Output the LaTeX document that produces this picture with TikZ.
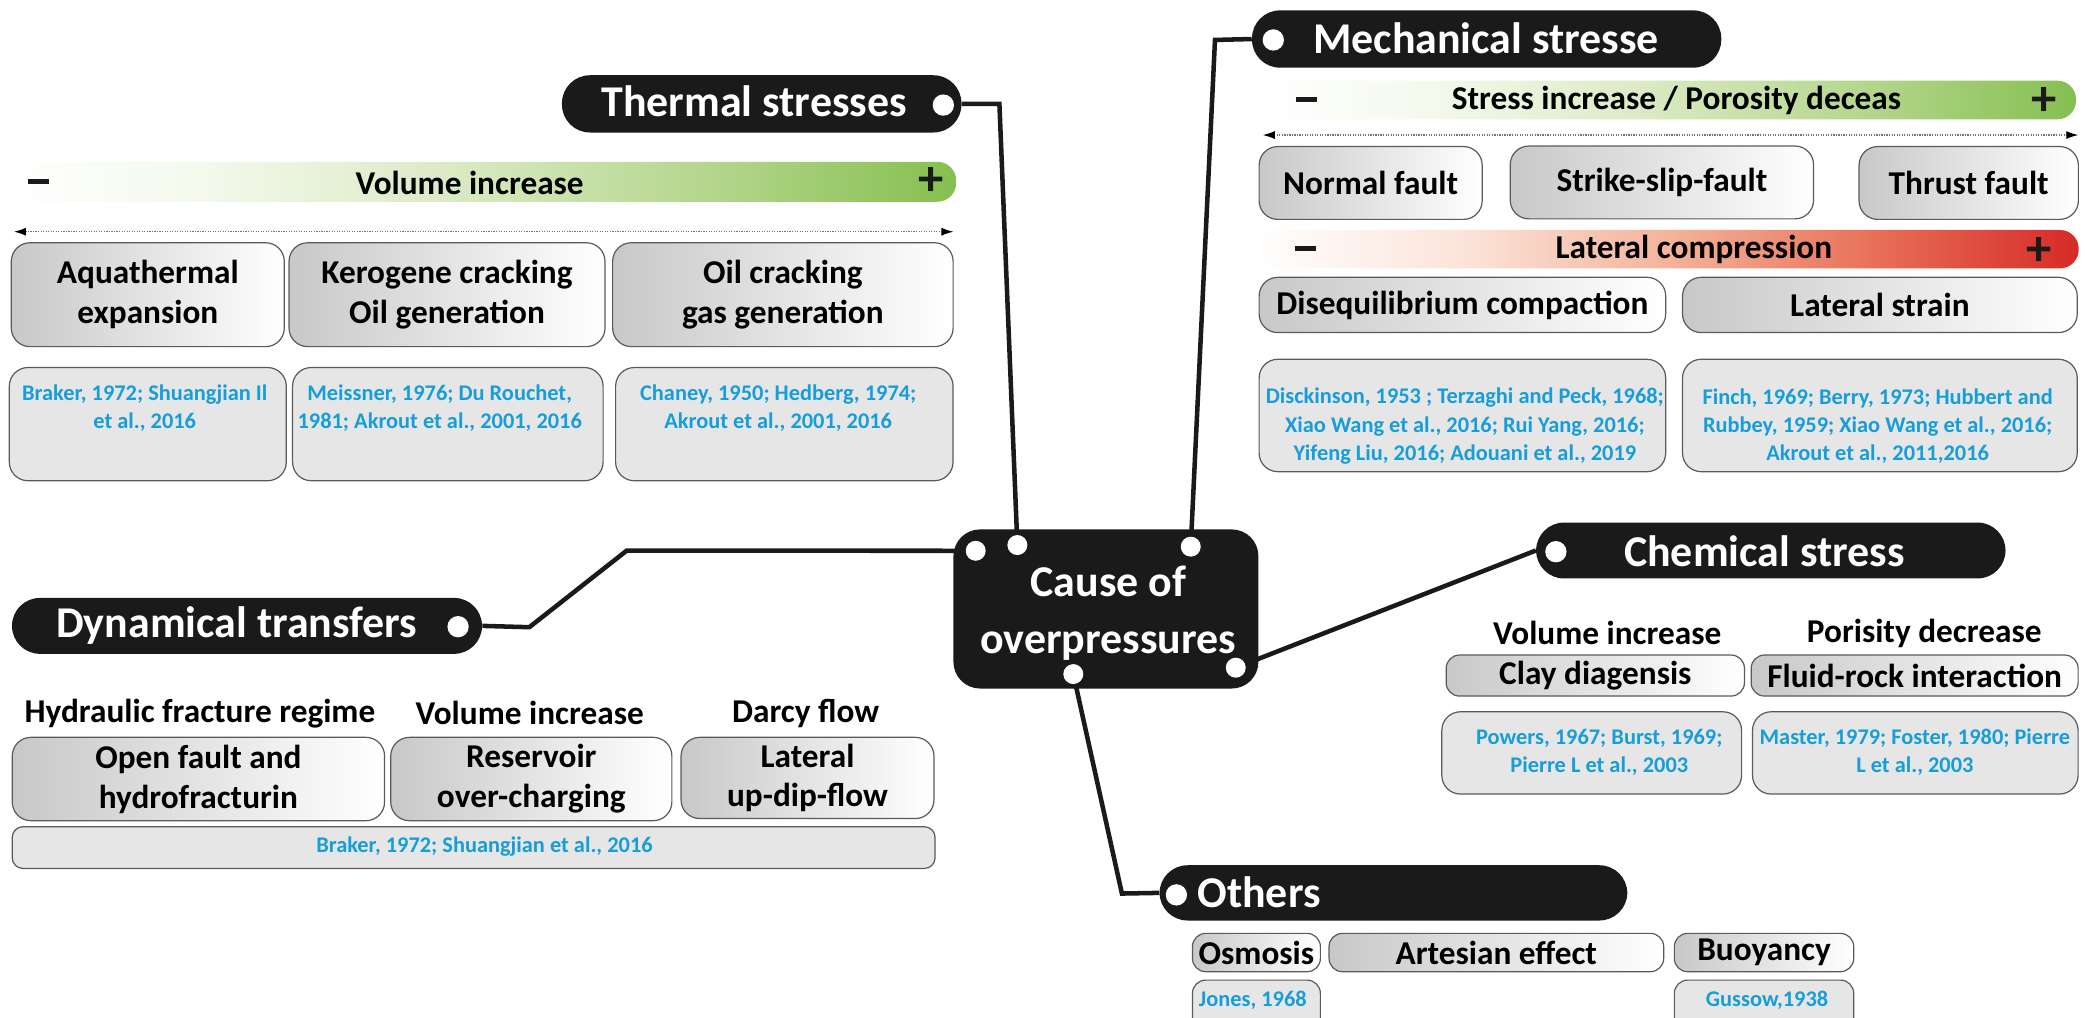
\documentclass[tikz,border=0pt]{standalone}
\usepackage{fontspec}
\setmainfont{Carlito}
\usepackage{tikz}
\usetikzlibrary{arrows.meta}
\definecolor{pillblack}{RGB}{26,26,26}
\definecolor{refblue}{RGB}{22,158,218}
\definecolor{refgray}{RGB}{230,230,230}
\definecolor{boxgray}{RGB}{200,200,200}
\definecolor{boxline}{RGB}{90,90,90}
\definecolor{greenlow}{RGB}{244,249,236}
\definecolor{greenmid}{RGB}{220,235,198}
\definecolor{greenhigh}{RGB}{180,214,140}
\definecolor{greenend}{RGB}{134,191,80}
\definecolor{redlow}{RGB}{251,228,218}
\definecolor{redmid}{RGB}{244,180,155}
\definecolor{redhigh}{RGB}{232,112,88}
\definecolor{redend}{RGB}{214,42,38}
\pgfdeclarehorizontalshading{greenscale}{100bp}{color(0bp)=(white); color(25bp)=(white); color(35bp)=(greenlow); color(47.5bp)=(greenmid); color(62bp)=(greenhigh); color(75bp)=(greenend); color(100bp)=(greenend)}
\pgfdeclarehorizontalshading{redscale}{100bp}{color(0bp)=(white); color(25bp)=(white); color(37.5bp)=(redlow); color(50bp)=(redmid); color(62.5bp)=(redhigh); color(75bp)=(redend); color(100bp)=(redend)}
\newcommand{\fnttitle}{\fontsize{33}{40}\selectfont\bfseries}
\newcommand{\fnthub}{\fontsize{33}{42.6}\selectfont\bfseries}
\newcommand{\fntitem}{\fontsize{25}{30}\selectfont\bfseries}
\newcommand{\fntref}{\fontsize{16.8}{21.2}\selectfont\bfseries}
\newcommand{\fntsign}{\fontsize{38}{38}\selectfont\bfseries}
\newcommand{\minussign}{\rule{16pt}{3.6pt}}

\begin{document}
\begin{tikzpicture}[x=1pt, y=-1pt,
    pill/.style={fill=pillblack, rounded corners=21pt, inner sep=0pt},
    pilltext/.style={text=white, font=\fnttitle, inner sep=0pt},
    pilldot/.style={circle, fill=white, inner sep=0pt, minimum size=16pt},
    hub/.style={fill=pillblack, rounded corners=20pt, inner sep=0pt},
    hubtext/.style={text=white, font=\fnthub, align=center, inner sep=0pt},
    hubdot/.style={circle, fill=white, inner sep=0pt, minimum size=15pt},
    link/.style={draw=pillblack, line width=3.4pt},
    itembox/.style={draw=boxline, line width=0.9pt, rounded corners=14pt, left color=boxgray, right color=white, text=black, font=\fntitem, align=center, inner sep=0pt},
    smallbox/.style={itembox, rounded corners=10pt},
    refbox/.style={draw=boxline, line width=0.9pt, rounded corners=14pt, fill=refgray, inner sep=0pt},
    reftext/.style={text=refblue, font=\fntref, align=center, inner sep=0pt},
    headtext/.style={text=black, font=\fntitem, inner sep=0pt},
    scalebar/.style={shade, rounded corners=14pt, inner sep=0pt},
    scalesign/.style={text=pillblack, font=\fntsign, inner sep=0pt},
    spanarrow/.style={{Latex[length=9pt,width=6pt,black]}-{Latex[length=9pt,width=6pt,black]}, densely dotted, draw=black!55, line width=0.9pt}]
  \useasboundingbox (0,0) rectangle (1568,764);

  \node[hub, minimum width=229, minimum height=119.5] (cause) at (830.5,457.3) {};
  \node[hubtext] (causelbl) at (832.3,460.5) {Cause of\\overpressures};
  \node[hubdot] (hubdyn) at (732.7,413.6) {};
  \node[hubdot] (hubtherm) at (764,409.3) {};
  \node[hubdot] (hubmech) at (894.2,410.5) {};
  \node[hubdot] (hubchem) at (928,501.4) {};
  \node[hubdot] (hubothers) at (806,506.2) {};

  \node[pill, minimum width=300, minimum height=43] (thermal) at (572,78) {};
  \node[pilltext] (thermallbl) at (566.3,76.3) {Thermal stresses};
  \node[pilldot] (thermaldot) at (708.4,78.9) {};
  \node[pill, minimum width=352.4, minimum height=43] (mech) at (1116.4,29.3) {};
  \node[pilltext] (mechlbl) at (1116,29) {Mechanical stresse};
  \node[pilldot] (mechdot) at (956.2,30) {};
  \node[pill, minimum width=352.5, minimum height=42] (chem) at (1329.8,413.4) {};
  \node[pilltext] (chemlbl) at (1325,414) {Chemical stress};
  \node[pilldot] (chemdot) at (1168.4,414.3) {};
  \node[pill, minimum width=353, minimum height=42] (dyn) at (185.5,470) {};
  \node[pilltext] (dynlbl) at (177.8,469.4) {Dynamical transfers};
  \node[pilldot] (dyndot) at (344,470.6) {};
  \node[pill, minimum width=351.3, minimum height=41.5] (others) at (1046.4,670.5) {};
  \node[pilltext, anchor=west] (otherslbl) at (899,670) {Others};
  \node[pilldot] (othersdot) at (883.4,672) {};

  \coordinate (thermbend) at (750.5,78);
  \coordinate (mechbend) at (912.4,30);
  \coordinate (dynbend) at (397.5,471);
  \coordinate (dynrise) at (470.6,413.5);
  \coordinate (othersbend) at (842.5,671);
  \draw[link] (thermal.east) -- (thermbend) -- (hubtherm);
  \draw[link] (hubmech) -- (mechbend) -- (mech.west);
  \draw[link] (dyn.east) -- (dynbend) -- (dynrise) -- (hubdyn);
  \draw[link] (hubchem) -- (chem.west);
  \draw[link] (hubothers) -- (othersbend) -- (others.west);

  \node[scalebar, shading=greenscale, minimum width=708, minimum height=30] (thermbar) at (364,136.5) {};
  \node[scalesign] (thermminus) at (29,136.4) {\minussign};
  \node[scalesign] (thermplus) at (699.5,136.4) {+};
  \node[headtext] (thermbartxt) at (352.7,137.7) {Volume increase};
  \coordinate (thermspanL) at (10.5,174);
  \coordinate (thermspanR) at (716,174);
  \draw[spanarrow] (thermspanL) -- (thermspanR);
  \node[itembox, minimum width=205, minimum height=78] (aqua) at (111,221.3) {Aquathermal\\expansion};
  \node[itembox, minimum width=237.3, minimum height=78] (kero) at (335.7,221.3) {Kerogene cracking\\Oil generation};
  \node[itembox, minimum width=255.7, minimum height=78] (oilcrack) at (587.9,221.3) {Oil cracking\\gas generation};
  \node[refbox, minimum width=208, minimum height=85] (aquaref) at (111,318.5) {};
  \node[reftext] (aquareftxt) at (108.7,306.5) {Braker, 1972; Shuangjian Il\\et al., 2016};
  \node[refbox, minimum width=233.2, minimum height=85] (keroref) at (336.3,318.5) {};
  \node[reftext] (keroreftxt) at (330.2,306.5) {Meissner, 1976; Du Rouchet,\\1981; Akrout et al., 2001, 2016};
  \node[refbox, minimum width=253.4, minimum height=85] (oilcrackref) at (589,318.5) {};
  \node[reftext] (oilcrackreftxt) at (584.4,306.5) {Chaney, 1950; Hedberg, 1974;\\Akrout et al., 2001, 2016};

  \node[scalebar, shading=greenscale, minimum width=604, minimum height=29] (mechbar) at (1257,75.1) {};
  \node[scalesign] (mechminus) at (981,75) {\minussign};
  \node[scalesign] (mechplus) at (1535,76.5) {+};
  \node[headtext] (mechbartxt) at (1259,75.5) {Stress increase / Porosity deceas};
  \coordinate (mechspanL) at (948.3,101.4);
  \coordinate (mechspanR) at (1560.7,101.4);
  \draw[spanarrow] (mechspanL) -- (mechspanR);
  \node[itembox, minimum width=167.5, minimum height=54.7] (normal) at (1029.3,137.4) {Normal fault};
  \node[itembox, minimum width=227.8, minimum height=54.7] (strike) at (1248,137) {Strike-slip-fault};
  \node[itembox, minimum width=164.7, minimum height=54.7] (thrust) at (1478.4,137.4) {Thrust fault};
  \node[scalebar, shading=redscale, minimum width=618, minimum height=28.8] (redbar) at (1252,187.1) {};
  \node[scalesign] (redminus) at (980.3,186.5) {\minussign};
  \node[scalesign] (redplus) at (1531.5,188.5) {+};
  \node[headtext] (redbartxt) at (1272,187.5) {Lateral compression};
  \node[itembox, minimum width=305.3, minimum height=41.5] (diseq) at (1098.2,229) {Disequilibrium compaction};
  \node[itembox, minimum width=296.4, minimum height=41.5] (latstrain) at (1411.7,229) {Lateral strain};
  \node[refbox, minimum width=305.3, minimum height=84.4] (diseqref) at (1098.2,312) {};
  \node[reftext] (diseqreftxt) at (1100,320) {Disckinson, 1953 ; Terzaghi and Peck, 1968;\\Xiao Wang et al., 2016; Rui Yang, 2016;\\Yifeng Liu, 2016; Adouani et al., 2019};
  \node[refbox, minimum width=296.4, minimum height=84.4] (latref) at (1411.7,312) {};
  \node[reftext] (latreftxt) at (1410,320) {Finch, 1969; Berry, 1973; Hubbert and\\Rubbey, 1959; Xiao Wang et al., 2016;\\Akrout et al., 2011,2016};

  \node[headtext] (chemvol) at (1207,475.6) {Volume increase};
  \node[headtext] (chemporo) at (1445,475.6) {Porisity decrease};
  \node[smallbox, minimum width=224, minimum height=30.8] (clay) at (1198,507.3) {Clay diagensis};
  \node[smallbox, minimum width=245.5, minimum height=30.8] (fluid) at (1437.8,507.3) {Fluid-rock interaction};
  \node[refbox, minimum width=225.1, minimum height=61.8] (clayref) at (1195.3,565.4) {};
  \node[reftext] (clayreftxt) at (1201,565) {Powers, 1967; Burst, 1969;\\Pierre L et al., 2003};
  \node[refbox, minimum width=244.5, minimum height=61.8] (fluidref) at (1438.3,565.4) {};
  \node[reftext] (fluidreftxt) at (1438,565) {Master, 1979; Foster, 1980; Pierre\\L et al., 2003};

  \node[headtext] (dynhydr) at (150.2,535.7) {Hydraulic fracture regime};
  \node[headtext] (dynvol) at (397.8,535.7) {Volume increase};
  \node[headtext] (dyndarcy) at (605,535.7) {Darcy flow};
  \node[itembox, minimum width=279.6, minimum height=62.6] (openfault) at (149,585) {Open fault and\\hydrofracturin};
  \node[itembox, minimum width=211.1, minimum height=62.6] (reservoir) at (399,585) {Reservoir\\over-charging};
  \node[itembox, minimum width=189.9, minimum height=61] (updip) at (606.4,584.2) {Lateral\\up-dip-flow};
  \node[refbox, minimum width=693, minimum height=31.3, rounded corners=8pt] (dynref) at (355.7,636.5) {};
  \node[reftext] (dynreftxt) at (363.8,635.8) {Braker, 1972; Shuangjian et al., 2016};

  \node[smallbox, minimum width=96.1, minimum height=28.8] (osmosis) at (943.5,715.3) {Osmosis};
  \node[smallbox, minimum width=251.3, minimum height=28.8] (artesian) at (1123.7,715.3) {Artesian effect};
  \node[smallbox, minimum width=134.7, minimum height=28.8] (buoyancy) at (1324.7,715.3) {Buoyancy};
  \node[refbox, minimum width=96.1, minimum height=44, rounded corners=10pt] (osmosisref) at (943.5,758) {};
  \node[reftext] (osmosisreftxt) at (940.8,751) {Jones, 1968};
  \node[refbox, minimum width=134.7, minimum height=44, rounded corners=10pt] (buoyancyref) at (1324.7,758) {};
  \node[reftext] (buoyancyreftxt) at (1327,751) {Gussow,1938};
\end{tikzpicture}
\end{document}
